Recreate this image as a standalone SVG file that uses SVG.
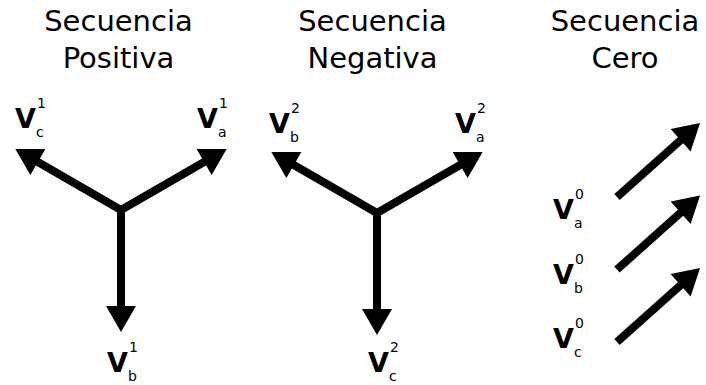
<svg xmlns="http://www.w3.org/2000/svg" width="706" height="385" viewBox="0 0 706 385">
<style>
.t{font-family:"DejaVu Sans",sans-serif;font-size:29px;fill:#000;text-anchor:middle}
.v{font-family:"DejaVu Sans",sans-serif;font-size:27px;font-weight:bold;fill:#000}
.s{font-family:"DejaVu Sans",sans-serif;font-size:14px;fill:#000}
.ar{stroke:#000;stroke-width:8;stroke-linecap:butt;fill:none;marker-end:url(#ah)}
</style>
<defs>
<marker id="ah" markerUnits="userSpaceOnUse" markerWidth="30" markerHeight="30" viewBox="0 0 26 30" refX="10" refY="15" orient="auto">
<path d="M0,0 L26,15 L0,30 z" fill="#000"/>
</marker>
</defs>
<rect width="706" height="385" fill="#fff"/>
<g id="title-pos"><text class="t" x="118.5" y="31">Secuencia</text><text class="t" x="118.5" y="68">Positiva</text></g>
<g id="title-neg"><text class="t" x="372.5" y="31">Secuencia</text><text class="t" x="372.5" y="68">Negativa</text></g>
<g id="title-zero"><text class="t" x="625" y="31">Secuencia</text><text class="t" x="625" y="68">Cero</text></g>
<g id="connectors">
<line class="ar" x1="121" y1="210" x2="29.2" y2="157"/>
<line class="ar" x1="121" y1="210" x2="212.8" y2="157"/>
<line class="ar" x1="121" y1="210" x2="121" y2="316"/>
<line class="ar" x1="377" y1="213" x2="285.2" y2="160"/>
<line class="ar" x1="377" y1="213" x2="468.8" y2="160"/>
<line class="ar" x1="377" y1="213" x2="377" y2="319"/>
<line class="ar" x1="617" y1="197" x2="688.1" y2="133.6"/>
<line class="ar" x1="617" y1="269.5" x2="688.1" y2="206.1"/>
<line class="ar" x1="617" y1="342" x2="688.1" y2="278.6"/>
</g>
<g id="V1c"><text class="v" x="15" y="128">V</text><text class="s" x="37" y="108">1</text><text class="s" x="36" y="137">c</text></g>
<g id="V1a"><text class="v" x="197" y="128">V</text><text class="s" x="219" y="108">1</text><text class="s" x="218" y="137">a</text></g>
<g id="V1b"><text class="v" x="107" y="372">V</text><text class="s" x="129" y="352">1</text><text class="s" x="128" y="381">b</text></g>
<g id="V2b"><text class="v" x="269" y="133">V</text><text class="s" x="291" y="113">2</text><text class="s" x="290" y="142">b</text></g>
<g id="V2a"><text class="v" x="455" y="133">V</text><text class="s" x="477" y="113">2</text><text class="s" x="476" y="142">a</text></g>
<g id="V2c"><text class="v" x="368" y="372">V</text><text class="s" x="390" y="352">2</text><text class="s" x="389" y="381">c</text></g>
<g id="V0a"><text class="v" x="553" y="219">V</text><text class="s" x="575" y="199">0</text><text class="s" x="574" y="228">a</text></g>
<g id="V0b"><text class="v" x="553" y="284">V</text><text class="s" x="575" y="264">0</text><text class="s" x="574" y="293">b</text></g>
<g id="V0c"><text class="v" x="553" y="348">V</text><text class="s" x="575" y="328">0</text><text class="s" x="574" y="357">c</text></g>
</svg>
